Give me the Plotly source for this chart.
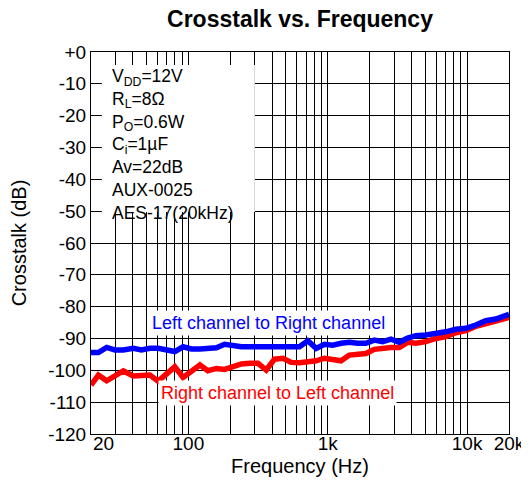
import numpy as np
import plotly.graph_objects as go

# frequency points (Hz)
freq = [20, 22.6, 25.9, 29.7, 34.1, 40.2, 46.1, 52.9, 60.7, 69.6,
        79.9, 91.6, 105, 121, 138, 159, 182, 209, 240, 275,
        316, 362, 415, 477, 547, 627, 720, 826, 947, 1087,
        1246, 1430, 1641, 1882, 2159, 2478, 2843, 3262, 3742, 4294,
        5064, 5970, 7040, 8300, 9796, 11540, 13610, 16050, 20000]

# Left channel to Right channel (dB)
left_to_right = [-94.4, -94.4, -92.8, -93.6, -93.6, -93.1, -93.6, -93.1, -93.1, -93.6,
                 -94.1, -92.6, -93.3, -93.3, -93.3, -92.9, -91.8, -92.4, -92.6, -92.6,
                 -92.6, -92.4, -92.8, -92.8, -92.8, -92.6, -90.7, -93.1, -91.8, -92.1,
                 -91.5, -91.2, -91.5, -91.5, -90.5, -91.0, -90.2, -91.2, -89.9, -89.1,
                 -88.9, -88.6, -87.9, -87.1, -86.8, -85.8, -84.4, -83.9, -82.4]

# Right channel to Left channel (dB)
right_to_left = [-104.6, -101.5, -103.3, -101.5, -100.2, -101.8, -101.7, -101.5, -103.4, -101.0,
                 -98.9, -102.2, -100.2, -98.3, -100.1, -99.4, -99.7, -98.9, -98.0, -97.8,
                 -97.8, -99.9, -96.5, -96.2, -97.5, -97.6, -97.5, -97.0, -96.2, -96.5,
                 -97.0, -95.2, -94.9, -94.7, -93.4, -92.9, -92.8, -92.8, -91.2, -91.5,
                 -91.0, -90.0, -89.4, -88.2, -87.5, -86.2, -85.2, -84.5, -83.4]

# axis ticks / grid
x_grid = [30, 40, 50, 60, 70, 80, 90,
          100, 200, 300, 400, 500, 600, 700, 800, 900,
          1000, 2000, 3000, 4000, 5000, 6000, 7000, 8000, 9000,
          10000, 20000]
x_labels = {100: '100', 1000: '1k', 10000: '10k', 20000: '20k'}
y_ticks = list(range(-120, 1, 10))
y_labels = ['+0' if v == 0 else str(v) for v in y_ticks]

conditions = ('V<sub>DD</sub>=12V<br>R<sub>L</sub>=8Ω<br>P<sub>O</sub>=0.6W<br>'
              'C<sub>i</sub>=1µF<br>Av=22dB<br>AUX-0025<br>AES-17(20kHz)')

FONT = 'Liberation Sans, Arial, sans-serif'

fig = go.Figure()
fig.add_trace(go.Scatter(x=freq, y=right_to_left, mode='lines',
                         line=dict(color='#ff0000', width=5.5),
                         name='Right channel to Left channel'))
fig.add_trace(go.Scatter(x=freq, y=left_to_right, mode='lines',
                         line=dict(color='#0000ff', width=5.5),
                         name='Left channel to Right channel'))

fig.update_xaxes(type='log',
                 range=[np.log10(20), np.log10(20000)],
                 tickvals=x_grid,
                 ticktext=[x_labels.get(v, '') for v in x_grid],
                 showgrid=True, gridcolor='black', gridwidth=1,
                 showline=True, linecolor='black', linewidth=1, mirror=True,
                 ticks='', zeroline=False, automargin=False,
                 ticklabelstandoff=-8,
                 tickfont=dict(size=19, color='black', family=FONT),
                 title=dict(text='Frequency (Hz)', standoff=6,
                            font=dict(size=20, color='black', family=FONT)))
fig.update_yaxes(range=[-120, 0],
                 tickvals=y_ticks, ticktext=y_labels,
                 showgrid=True, gridcolor='black', gridwidth=1,
                 showline=True, linecolor='black', linewidth=1, mirror=True,
                 ticks='', zeroline=False, automargin=False,
                 tickfont=dict(size=19, color='black', family=FONT),
                 title=dict(text='Crosstalk (dB)', standoff=16,
                            font=dict(size=20, color='black', family=FONT)))

# "20" label sits left-aligned at the axis start
fig.add_annotation(x=np.log10(20), xref='x', y=0, yref='paper',
                   text='20', showarrow=False, xanchor='left', yanchor='top',
                   yshift=3, font=dict(size=19, color='black', family=FONT))

# white box behind the test conditions
fig.add_shape(type='rect', xref='paper', yref='paper',
              x0=0.026, x1=0.392, y0=0.581, y1=0.966,
              fillcolor='white', line_width=0, layer='above')
fig.add_annotation(x=0.048, xref='paper', y=0.966, yref='paper',
                   text=conditions, showarrow=False, align='left',
                   xanchor='left', yanchor='top', borderpad=0,
                   font=dict(size=17.5, color='black', family=FONT))

fig.add_annotation(x=np.log10(373), y=-85, text='Left channel to Right channel',
                   showarrow=False, bgcolor='white', borderpad=2,
                   font=dict(size=18, color='#0000ff', family=FONT))
fig.add_annotation(x=np.log10(433), y=-107, text='Right channel to Left channel',
                   showarrow=False, bgcolor='white', borderpad=2,
                   font=dict(size=18, color='#ff0000', family=FONT))

# page body adds an 8px offset, so the figure is 8px smaller on each axis
fig.update_layout(width=521, height=480,
                  margin=dict(l=83, r=20, t=44, b=54),
                  paper_bgcolor='white', plot_bgcolor='white',
                  showlegend=False,
                  title=dict(text='<b>Crosstalk vs. Frequency</b>',
                             x=0.5, xref='paper', y=1, yref='container',
                             yanchor='top', pad=dict(t=3),
                             font=dict(size=23, color='black', family=FONT)))

fig.write_html('out.html')
